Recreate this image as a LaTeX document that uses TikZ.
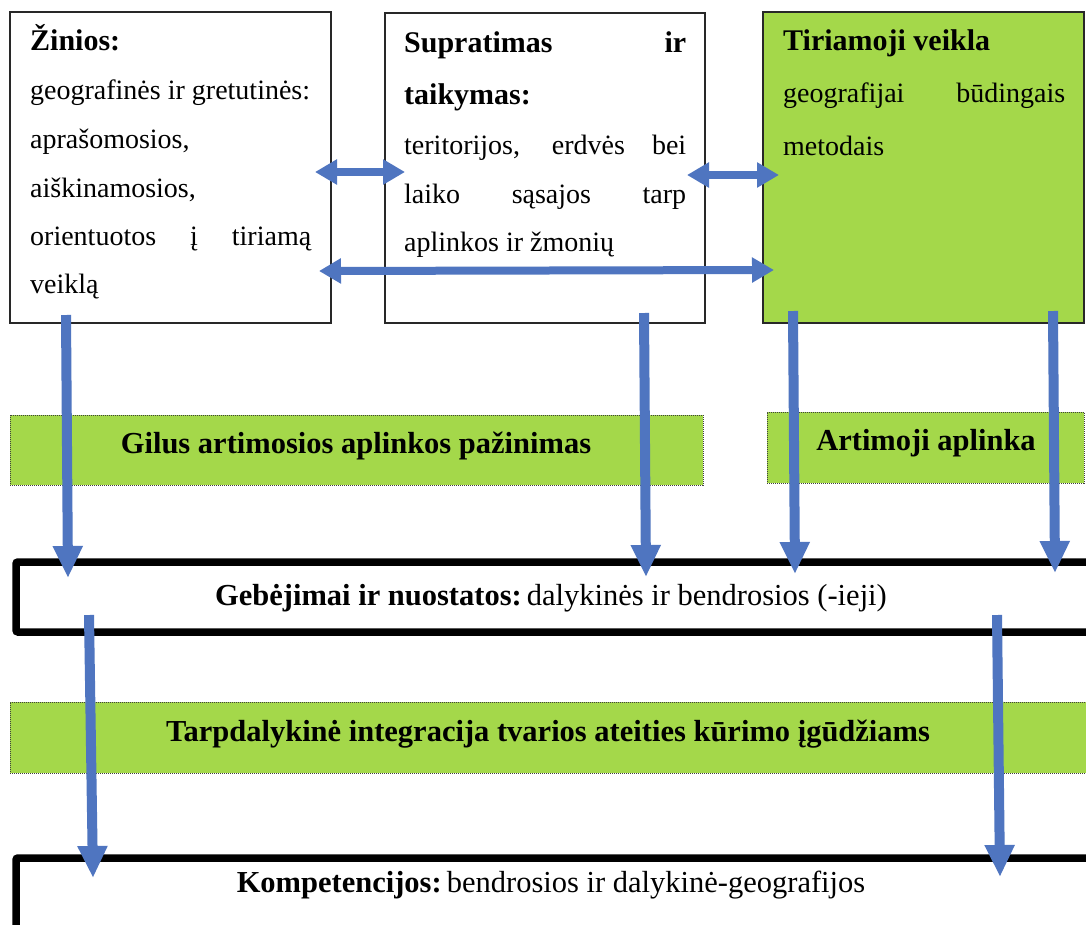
\documentclass[tikz,border=0pt]{standalone}
\usepackage{fontspec}
\setmainfont{Liberation Serif}
\usetikzlibrary{arrows.meta}
\definecolor{lgreen}{RGB}{164,216,74}
\definecolor{ablue}{RGB}{79,117,192}
\definecolor{edgec}{RGB}{40,40,40}
\begin{document}
\begin{tikzpicture}[x=1pt,y=-1pt,
  topbox/.style={draw=edgec,line width=1.3pt,inner sep=0pt},
  greenbox/.style={topbox,fill=lgreen},
  bar/.style={draw=black!75,line width=1pt,dash pattern=on 1pt off 1pt,fill=lgreen,inner sep=0pt},
  thickbox/.style={draw=black,line width=7.5pt,rounded corners=2pt,inner sep=0pt},
  head/.style={font=\fontsize{30}{36}\selectfont\bfseries,anchor=base west,inner sep=0pt},
  body/.style={font=\fontsize{28}{34}\selectfont,anchor=base west,inner sep=0pt},
  mid/.style={font=\fontsize{30.5}{36}\selectfont,anchor=base,inner sep=0pt},
  varr/.style={draw=ablue,line width=10pt,-{Triangle[length=32pt,width=28pt]}},
  harr/.style={draw=ablue,line width=8pt,{Triangle[length=22pt,width=24pt]}-{Triangle[length=22pt,width=24pt]}}
]
\clip (0,0) rectangle (1086,924);
\fill[white] (0,0) rectangle (1086,924);

% top boxes
\node[topbox,minimum width=321pt,minimum height=311pt] (zin) at (170.5,167.5) {};
\node[topbox,minimum width=320pt,minimum height=310pt] (sup) at (545,168) {};
\node[greenbox,minimum width=321pt,minimum height=311pt] (tir) at (923.5,167.5) {};

% green bars
\node[bar,minimum width=693pt,minimum height=70pt] (gil) at (356.5,450) {};
\node[bar,minimum width=317pt,minimum height=71pt] (art) at (925.5,447.5) {};
\node[bar,minimum width=1090pt,minimum height=71pt] (tar) at (555,737.5) {};

% thick boxes
\node[thickbox,minimum width=1084pt,minimum height=70pt] (geb) at (558,597) {};
\node[thickbox,minimum width=1084pt,minimum height=90pt] (komp) at (558,903) {};

% texts box 1
\node[head] (z1) at (30,50) {Žinios:};
\node[body] (z2) at (30,99) {geografinės ir gretutinės:};
\node[body] (z3) at (30,148) {aprašomosios,};
\node[body] (z4) at (30,197) {aiškinamosios,};
\node[body] (z5) at (30,245) {\makebox[281pt][s]{orientuotos į tiriamą}};
\node[body] (z6) at (30,293) {veiklą};

% texts box 2
\node[head] (s1) at (404,52) {\makebox[282pt][s]{Supratimas ir}};
\node[head] (s2) at (404,104) {taikymas:};
\node[body] (s3) at (404,154) {\makebox[282pt][s]{teritorijos, erdvės bei}};
\node[body] (s4) at (404,203) {\makebox[282pt][s]{laiko sąsajos tarp}};
\node[body] (s5) at (404,251) {aplinkos ir žmonių};

% texts box 3
\node[head] (t1) at (783,50) {Tiriamoji veikla};
\node[body] (t2) at (783,102) {\makebox[282pt][s]{geografijai būdingais}};
\node[body] (t3) at (783,155) {metodais};

% bar / bottom texts
\node[mid,font=\fontsize{30.5}{36}\selectfont\bfseries] (gilt) at (356,453) {Gilus artimosios aplinkos pažinimas};
\node[mid,font=\fontsize{30.5}{36}\selectfont\bfseries] (artt) at (926,450) {Artimoji aplinka};
\node[mid] (gebt) at (551,605) {\textbf{Gebėjimai ir nuostatos:}\,dalykinės ir bendrosios (-ieji)};
\node[mid,font=\fontsize{30.5}{36}\selectfont\bfseries] (tart) at (548,741) {Tarpdalykinė integracija tvarios ateities kūrimo įgūdžiams};
\node[mid] (kompt) at (551,892) {\textbf{Kompetencijos:}\,bendrosios ir dalykinė-geografijos};

% arrow end points
\coordinate (h1a) at (315,172); \coordinate (h1b) at (405,172);
\coordinate (h2a) at (687,175); \coordinate (h2b) at (779,175);
\coordinate (h3a) at (319,271); \coordinate (h3b) at (774,270);
\coordinate (v1a) at (66,315);  \coordinate (v1b) at (68,578);
\coordinate (v2a) at (644,313); \coordinate (v2b) at (646,577);
\coordinate (v3a) at (793,311); \coordinate (v3b) at (795,574);
\coordinate (v4a) at (1053,311); \coordinate (v4b) at (1055,573);
\coordinate (v5a) at (89,615);  \coordinate (v5b) at (93,878);
\coordinate (v6a) at (997,615); \coordinate (v6b) at (1000,877);

\draw[harr] (h1a) -- (h1b);
\draw[harr] (h2a) -- (h2b);
\draw[harr] (h3a) -- (h3b);
\draw[varr] (v1a) -- (v1b);
\draw[varr] (v2a) -- (v2b);
\draw[varr] (v3a) -- (v3b);
\draw[varr] (v4a) -- (v4b);
\draw[varr] (v5a) -- (v5b);
\draw[varr] (v6a) -- (v6b);
\end{tikzpicture}
\end{document}
